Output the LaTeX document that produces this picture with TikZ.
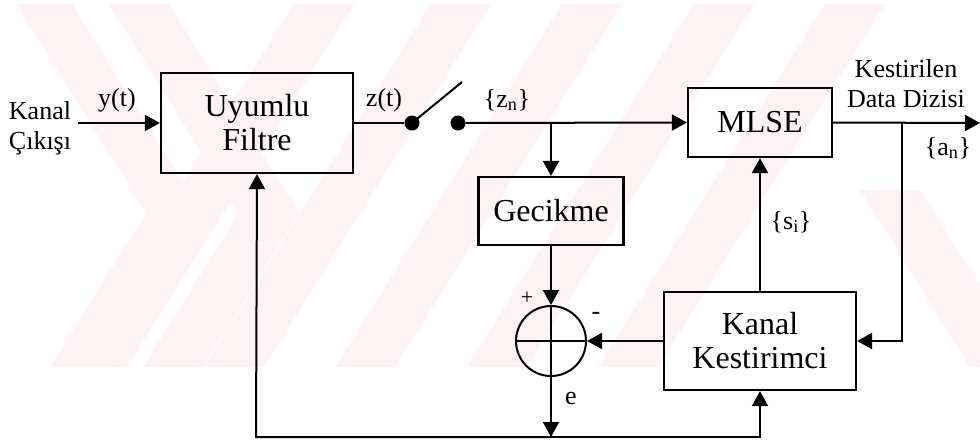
\documentclass[tikz,border=0pt]{standalone}
\usepackage{fontspec}
\setmainfont{Liberation Serif}
\usetikzlibrary{arrows.meta}
\definecolor{wm}{RGB}{254,242,245}
\begin{document}
\begin{tikzpicture}[x=1pt,y=-1pt,
  ln/.style={line width=2pt},
  arr/.style={line width=2pt,-{Triangle[length=15pt,width=16pt]}},
  blk/.style={draw,line width=2.2pt,inner sep=0pt,align=center,font=\fontsize{32}{34}\selectfont},
  lab/.style={inner sep=0pt,align=center,font=\fontsize{26}{30}\selectfont},
  dot/.style={circle,fill=black,minimum size=15pt,inner sep=0pt},
  band/.style={fill=wm,draw=none}
]
\useasboundingbox (0,0) rectangle (980,440);
% watermark
\begin{scope}
\clip (0,4) rectangle (980,367);
\fill[band] (16,4) -- (72,4) -- (202,213) -- (106,367) -- (50,367) -- (146,213) -- cycle;
\fill[band] (109,4) -- (169,4) -- (299,213) -- (203,367) -- (143,367) -- (239,213) -- cycle;
\foreach \x in {294,431,562,694,825}{
  \fill[band] (\x,4) -- (\x+60,4) -- (\x+60-227,367) -- (\x-227,367) -- cycle;
}
\fill[band] (860,190) -- (920,190) -- (1030,367) -- (970,367) -- cycle;
\end{scope}
% blocks
\node[blk,minimum width=192pt,minimum height=100pt] (uf) at (257,123) {Uyumlu\\Filtre};
\node[blk,minimum width=144pt,minimum height=69pt] (mlse) at (760,122.5) {MLSE};
\node[blk,minimum width=145pt,minimum height=68pt] (gec) at (551,211) {Gecikme};
\node[blk,minimum width=192pt,minimum height=98pt] (kk) at (760,341) {Kanal\\Kestirimci};
\node[draw,circle,line width=2pt,minimum size=70pt,inner sep=0pt] (sum) at (551,341) {};
\draw[ln] (sum.west) -- (sum.east);
\draw[ln] (sum.north) -- (sum.south);
% switch
\node[dot] (d1) at (412,123) {};
\node[dot] (d2) at (458,123) {};
\coordinate (sw) at (462,82);
% helper coordinates
\coordinate (in) at (78,123);
\coordinate (br1) at (551,123);
\coordinate (out) at (980,123);
\coordinate (br2) at (902,123);
\coordinate (br2b) at (902,341);
\coordinate (bl) at (256,437);
\coordinate (bm) at (551,437);
\coordinate (br) at (760,437);
% connectors
\draw[arr] (in) -- (uf.west);
\draw[ln] (uf.east) -- (d1);
\draw[ln] (d1.center) -- (sw);
\draw[arr] (d2) -- (mlse.west);
\draw[arr] (br1) -- (gec.north);
\draw[arr] (mlse.east) -- (out);
\draw[arr] (br2) -- (br2b) -- (kk.east);
\draw[arr] (kk.north) -- (mlse.south);
\draw[arr] (kk.west) -- (sum.east);
\draw[arr] (gec.south) -- (sum.north);
\draw[arr] (sum.south) -- (bm);
\draw[arr] (bm) -- (bl) -- (uf.south);
\draw[arr] (bm) -- (br) -- (kk.south);
% labels
\node[lab] (lk) at (40,128) {Kanal\\Çıkışı};
\node[lab] (ly) at (117,100) {y(t)};
\node[lab] (lz) at (384,100) {z(t)};
\node[lab] (lzn) at (507,100) {\{z\textsubscript{n}\}};
\node[lab] (lkd) at (906,84) {Kestirilen\\Data Dizisi};
\node[lab] (lan) at (948,148) {\{a\textsubscript{n}\}};
\node[lab] (lsi) at (791,222) {\{s\textsubscript{i}\}};
\node[lab] (le) at (571,398) {e};
\node[inner sep=0pt,font=\fontsize{22}{22}\selectfont] (lp) at (527,298) {+};
\node[inner sep=0pt,font=\fontsize{26}{26}\selectfont] (lm) at (596,316) {-};
\end{tikzpicture}
\end{document}
